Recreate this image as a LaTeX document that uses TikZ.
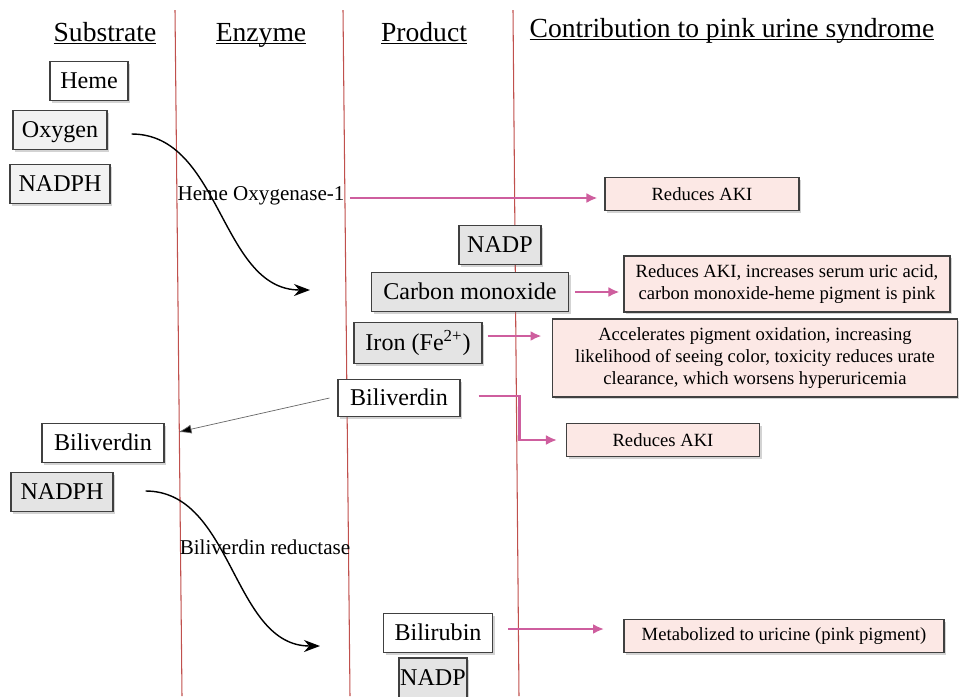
\documentclass[tikz,border=0pt]{standalone}
\usepackage{fontspec}
\setmainfont{Liberation Serif}
\usepackage{tikz}
\usetikzlibrary{shadows,arrows.meta}
\definecolor{lanecol}{RGB}{192,80,77}
\definecolor{pinkline}{RGB}{206,94,158}
\definecolor{pinkfill}{RGB}{252,232,229}
\definecolor{greyA}{RGB}{242,242,242}
\definecolor{greyB}{RGB}{228,228,228}
\definecolor{edgecol}{RGB}{64,64,64}
\newcommand{\headline}[1]{\underline{\smash{#1}}}
\tikzset{
  box/.style={draw=edgecol, line width=0.6pt, inner sep=0pt, minimum height=7.8mm,
    font=\fontsize{13.7}{15}\selectfont, text height=10pt, text depth=1pt,
    drop shadow={shadow xshift=1.4pt, shadow yshift=-1.4pt, opacity=0.35}},
  whitebox/.style={box, fill=white},
  greybox/.style={box, fill=greyA},
  darkbox/.style={box, fill=greyB},
  effbox/.style={box, fill=pinkfill, align=center, minimum height=6.6mm,
    text height=, text depth=, font=\fontsize{10.6}{12.6}\selectfont},
  head/.style={font=\fontsize{15.7}{17}\selectfont, inner sep=0pt, anchor=base},
  enzlabel/.style={font=\fontsize{12}{14}\selectfont, inner sep=0pt},
  pinkarrow/.style={draw=pinkline, line width=1.5pt, -{Latex[length=2.2mm,width=2mm]}},
  rxn/.style={draw=black, line width=0.8pt, -{Stealth[length=3.2mm,width=2.4mm]}},
}
\begin{document}
\begin{tikzpicture}[x=0.2mm, y=-0.2mm]
			%%%%% START %%%%%
			\useasboundingbox (0,0) rectangle (959,696);
			
			% lanes
			\draw[lanecol, line width=0.6pt] (175,10) -- (182,696);
			\draw[lanecol, line width=0.6pt] (343,10) -- (350,696);
			\draw[lanecol, line width=0.6pt] (513,10) -- (519,696);
			
			% headings
			\node[head] (hsub) at (105,41) {\headline{Substrate}};
			\node[head] (henz) at (261,41) {\headline{Enzyme}};
			\node[head] (hprod) at (424,41) {\headline{Product}};
			\node[head] (hcon) at (732,37) {\headline{Contribution to pink urine syndrome}};
			
			% first reaction
			\node[whitebox, minimum width=15.6mm] (heme) at (89,81) {Heme};
			\node[greybox, minimum width=18.8mm] (oxy) at (60,130) {Oxygen};
			\node[greybox, minimum width=20mm] (nadph) at (60,184) {NADPH};
			
			\node[enzlabel] (hox) at (261,196) {Heme Oxygenase-1};
			
			\node[darkbox, minimum width=16.4mm] (nadp) at (500,245) {NADP};
			\node[darkbox, minimum width=39.4mm] (co) at (470,292) {Carbon monoxide};
			\node[darkbox, minimum width=25.6mm, minimum height=8.2mm] (iron) at (418,343) {Iron (Fe\textsuperscript{2+})};
			\node[whitebox, minimum width=24.4mm, minimum height=7.4mm] (bvp) at (399,398) {Biliverdin};
			
			\coordinate (hoend) at (310,290);
			\draw[rxn] ([xshift=4.8mm,yshift=-0.8mm]oxy.east) .. controls +(90,0) and +(-90,0) .. (hoend);
			
			% second reaction
			\node[whitebox, minimum width=24.4mm] (bvs) at (103,443) {Biliverdin};
			\node[darkbox, minimum width=20.4mm] (nadph2) at (62,492) {NADPH};
			
			\draw[gray!80!black, line width=0.4pt, -{Latex[length=2.6mm,width=1.8mm,fill=black]}] ([xshift=-1.6mm]bvp.west) -- ([xshift=2.8mm,yshift=2.2mm]bvs.east);
			
			\node[enzlabel] (bvr) at (265,547) {Biliverdin reductase};
			
			\node[whitebox, minimum width=21.8mm] (bil) at (438,633) {Bilirubin};
			\node[darkbox, minimum width=13.6mm, minimum height=8mm] (nadp2) at (433,678) {NADP};
			
			\coordinate (brend) at (320,646);
			\draw[rxn] ([xshift=6.4mm,yshift=0.2mm]nadph2.east) .. controls +(88,0) and +(-88,0) .. (brend);
			
			% contributions
			\node[effbox, minimum width=38.8mm] (aki1) at (702,194) {Reduces AKI};
			\node[effbox, minimum width=65.2mm, minimum height=11.2mm] (coeff) at (787,284)
			  {Reduces AKI, increases serum uric acid,\\carbon monoxide-heme pigment is pink};
			\node[effbox, minimum width=81mm, minimum height=15.6mm] (feeff) at (755,358)
			  {Accelerates pigment oxidation, increasing\\likelihood of seeing color, toxicity reduces urate\\clearance, which worsens hyperuricemia};
			\node[effbox, minimum width=38.6mm] (aki2) at (663,440) {Reduces AKI};
			\node[effbox, minimum width=64mm] (urc) at (784,636) {Metabolized to uricine (pink pigment)};
			
			\draw[pinkarrow] ([xshift=1mm,yshift=-0.4mm]hox.east) -- ([xshift=-1.4mm,yshift=-0.4mm]hox.east -| aki1.west);
			\draw[pinkarrow] ([xshift=1.2mm]co.east) -- ([xshift=-0.8mm]coeff.west |- co.east);
			\draw[pinkarrow] ([xshift=1mm,yshift=1.4mm]iron.east) -- ++(54,0);
			\draw[pinkarrow] ([xshift=3.6mm,yshift=0.4mm]bvp.east) -- ++(41,0) |- ([xshift=-1.8mm]aki2.west);
			\draw[pinkarrow] ([xshift=3mm,yshift=0.8mm]bil.east) -- ++(96,0);
			%%%%% END %%%%%
		\end{tikzpicture}
\end{document}
